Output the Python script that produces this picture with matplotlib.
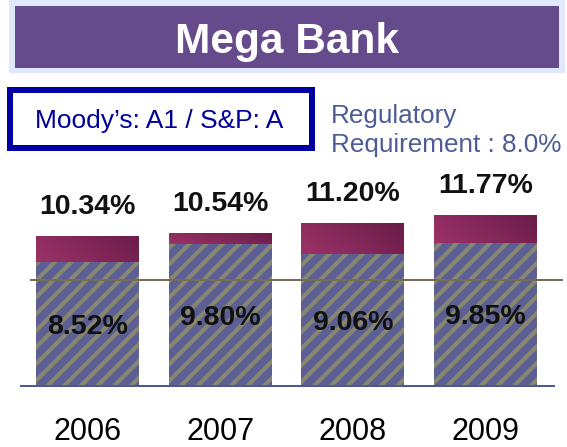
import numpy as np
import matplotlib
matplotlib.use('Agg')
import matplotlib.pyplot as plt
from matplotlib.patches import Rectangle
from matplotlib.colors import LinearSegmentedColormap

# ---- data ----
years = ['2006', '2007', '2008', '2009']
tier1 = [8.52, 9.80, 9.06, 9.85]        # hatched part
total = [10.34, 10.54, 11.20, 11.77]    # full bar height
req_line = 7.3   # position where the requirement line is drawn
title = 'Mega Bank'
rating_text = 'Moody\u2019s: A1 / S&P: A'
req_text = ['Regulatory', 'Requirement : 8.0%']

plt.rcParams['font.family'] = ['Liberation Sans', 'DejaVu Sans']
plt.rcParams['hatch.linewidth'] = 3.0

W, H, DPI = 567, 447, 100
PT = 72.0 / DPI  # points per pixel
fig = plt.figure(figsize=(W / DPI, H / DPI), dpi=DPI)
fig.patch.set_facecolor('white')


def fx(px):
    return px / W


def fy(py):
    return 1 - py / H


def frect(x0, y0, x1, y1, **kw):
    r = Rectangle((fx(x0), fy(y1)), fx(x1) - fx(x0), fy(y0) - fy(y1),
                  transform=fig.transFigure, **kw)
    fig.add_artist(r)
    return r


# ---- title banner ----
frect(9, 0, 565, 73, facecolor='#e1e7fc', edgecolor='none', zorder=0)
frect(15, 6, 559, 68, facecolor='#654a8c', edgecolor='none', zorder=1)
fig.text(fx(287), fy(53.3), title, ha='center', va='baseline', color='white',
         fontsize=30.5, fontweight='bold', zorder=2)

# ---- rating box ----
frect(10, 90, 312, 148, facecolor='white', edgecolor='#0000a0',
      linewidth=6 * PT, zorder=1)
fig.text(fx(35), fy(128.3), rating_text, ha='left', va='baseline',
         color='#00009a', fontsize=19, zorder=2)

# ---- regulatory text ----
fig.text(fx(331), fy(122.7), req_text[0], ha='left', va='baseline',
         color='#4d5c96', fontsize=18.8)
fig.text(fx(331), fy(151.7), req_text[1], ha='left', va='baseline',
         color='#4d5c96', fontsize=18.8)

# ---- chart ----
px_per_unit = 14.48
ymax = 12
ax = fig.add_axes([fx(21), fy(385.5), fx(554) - fx(21), ymax * px_per_unit / H])
ax.set_facecolor('none')
x = np.arange(len(years))
tier1_a = np.array(tier1)
total_a = np.array(total)
width = 0.776

ax.bar(x, tier1_a, width=width, color='#5c5f94', edgecolor='#878670',
       hatch='//', linewidth=0, zorder=2)
tops = ax.bar(x, total_a - tier1_a, bottom=tier1_a, width=width,
              color='#8f2b60', linewidth=0, zorder=2)

cmap = LinearSegmentedColormap.from_list('mg', ['#9c3268', '#6a1d4a'])
gx = np.linspace(0, 0.75, 120)
gy = np.linspace(0, 0.25, 40)
grad = np.add.outer(gy, gx)
for r in tops:
    x0, y0, w, h = r.get_x(), r.get_y(), r.get_width(), r.get_height()
    im = ax.imshow(grad, extent=[x0, x0 + w, y0, y0 + h], origin='lower',
                   aspect='auto', cmap=cmap, vmin=0, vmax=1, zorder=2.5)
    im.set_clip_path(r)

ax.plot([-0.426, 3.577], [req_line, req_line], color='#7b6a55',
        lw=2 * PT, clip_on=False, zorder=3)

for i in range(len(years)):
    ax.annotate(f'{total[i]:.2f}%', (x[i], total[i]), xytext=(0, 22 * PT),
                textcoords='offset points', ha='center', va='baseline',
                fontsize=20.5, fontweight='bold', color='#111111',
                annotation_clip=False, zorder=4)
    ax.annotate(f'{tier1[i]:.2f}%', (x[i], tier1[i] / 2), xytext=(0, -10.3 * PT),
                textcoords='offset points', ha='center', va='baseline',
                fontsize=20.5, fontweight='bold', color='#111111',
                annotation_clip=False, zorder=4)
    ax.annotate(years[i], (x[i], 0), xytext=(0, -54 * PT),
                textcoords='offset points', ha='center', va='baseline',
                fontsize=22, color='black', annotation_clip=False)

ax.set_xlim(-0.501, 3.516)
ax.set_ylim(0, ymax)
ax.set_xticks([])
ax.set_yticks([])
for s in ['top', 'left', 'right']:
    ax.spines[s].set_visible(False)
ax.spines['bottom'].set_color('#4b5b8e')
ax.spines['bottom'].set_linewidth(2 * PT)
ax.spines['bottom'].set_zorder(3)

fig.savefig('out.png', dpi=DPI, facecolor='white')
